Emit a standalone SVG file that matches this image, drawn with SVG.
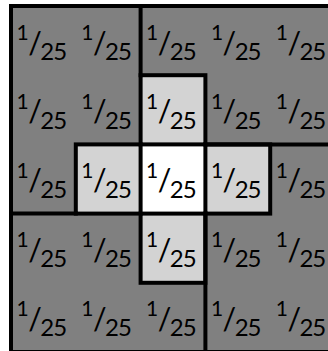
<svg xmlns="http://www.w3.org/2000/svg" width="328" height="351" viewBox="0 0 328 351">
<style>
.bg{fill:#808080}
.lt{fill:#d3d3d3}
.wh{fill:#ffffff}
.ln{stroke:#000;stroke-width:4;fill:none;stroke-linecap:square}
text{font-family:Lato,"Open Sans",sans-serif;fill:#000}
.n{font-size:21px}
.s{font-size:30px}
.d{font-size:24px;letter-spacing:-1px}
</style>
<rect class="bg" x="11" y="6" width="324" height="346"/>
<g id="cells">
<g id="c00"><text x="16.5" y="40"><tspan class="n">1</tspan><tspan class="s" dy="13.5" dx="-0.5">/</tspan><tspan class="d" dy="6.5" dx="-1.5">25</tspan></text></g>
<g id="c01"><text x="81.3" y="40"><tspan class="n">1</tspan><tspan class="s" dy="13.5" dx="-0.5">/</tspan><tspan class="d" dy="6.5" dx="-1.5">25</tspan></text></g>
<g id="c02"><text x="146.1" y="40"><tspan class="n">1</tspan><tspan class="s" dy="13.5" dx="-0.5">/</tspan><tspan class="d" dy="6.5" dx="-1.5">25</tspan></text></g>
<g id="c03"><text x="210.9" y="40"><tspan class="n">1</tspan><tspan class="s" dy="13.5" dx="-0.5">/</tspan><tspan class="d" dy="6.5" dx="-1.5">25</tspan></text></g>
<g id="c04"><text x="275.7" y="40"><tspan class="n">1</tspan><tspan class="s" dy="13.5" dx="-0.5">/</tspan><tspan class="d" dy="6.5" dx="-1.5">25</tspan></text></g>

<g id="c10"><text x="16.5" y="108.8"><tspan class="n">1</tspan><tspan class="s" dy="13.5" dx="-0.5">/</tspan><tspan class="d" dy="6.5" dx="-1.5">25</tspan></text></g>
<g id="c11"><text x="81.3" y="108.8"><tspan class="n">1</tspan><tspan class="s" dy="13.5" dx="-0.5">/</tspan><tspan class="d" dy="6.5" dx="-1.5">25</tspan></text></g>
<g id="c12"><rect class="lt" x="140.6" y="75.2" width="64.8" height="69.2"/><text x="146.1" y="108.8"><tspan class="n">1</tspan><tspan class="s" dy="13.5" dx="-0.5">/</tspan><tspan class="d" dy="6.5" dx="-1.5">25</tspan></text></g>
<g id="c13"><text x="210.9" y="108.8"><tspan class="n">1</tspan><tspan class="s" dy="13.5" dx="-0.5">/</tspan><tspan class="d" dy="6.5" dx="-1.5">25</tspan></text></g>
<g id="c14"><text x="275.7" y="108.8"><tspan class="n">1</tspan><tspan class="s" dy="13.5" dx="-0.5">/</tspan><tspan class="d" dy="6.5" dx="-1.5">25</tspan></text></g>

<g id="c20"><text x="16.5" y="177.8"><tspan class="n">1</tspan><tspan class="s" dy="13.5" dx="-0.5">/</tspan><tspan class="d" dy="6.5" dx="-1.5">25</tspan></text></g>
<g id="c21"><rect class="lt" x="75.8" y="144.4" width="64.8" height="69.2"/><text x="81.3" y="177.8"><tspan class="n">1</tspan><tspan class="s" dy="13.5" dx="-0.5">/</tspan><tspan class="d" dy="6.5" dx="-1.5">25</tspan></text></g>
<g id="c22"><rect class="wh" x="140.6" y="144.4" width="64.8" height="69.2"/><text x="146.1" y="177.8"><tspan class="n">1</tspan><tspan class="s" dy="13.5" dx="-0.5">/</tspan><tspan class="d" dy="6.5" dx="-1.5">25</tspan></text></g>
<g id="c23"><rect class="lt" x="205.4" y="144.4" width="64.8" height="69.2"/><text x="210.9" y="177.8"><tspan class="n">1</tspan><tspan class="s" dy="13.5" dx="-0.5">/</tspan><tspan class="d" dy="6.5" dx="-1.5">25</tspan></text></g>
<g id="c24"><text x="275.7" y="177.8"><tspan class="n">1</tspan><tspan class="s" dy="13.5" dx="-0.5">/</tspan><tspan class="d" dy="6.5" dx="-1.5">25</tspan></text></g>

<g id="c30"><text x="16.5" y="247"><tspan class="n">1</tspan><tspan class="s" dy="13.5" dx="-0.5">/</tspan><tspan class="d" dy="6.5" dx="-1.5">25</tspan></text></g>
<g id="c31"><text x="81.3" y="247"><tspan class="n">1</tspan><tspan class="s" dy="13.5" dx="-0.5">/</tspan><tspan class="d" dy="6.5" dx="-1.5">25</tspan></text></g>
<g id="c32"><rect class="lt" x="140.6" y="213.6" width="64.8" height="69.2"/><text x="146.1" y="247"><tspan class="n">1</tspan><tspan class="s" dy="13.5" dx="-0.5">/</tspan><tspan class="d" dy="6.5" dx="-1.5">25</tspan></text></g>
<g id="c33"><text x="210.9" y="247"><tspan class="n">1</tspan><tspan class="s" dy="13.5" dx="-0.5">/</tspan><tspan class="d" dy="6.5" dx="-1.5">25</tspan></text></g>
<g id="c34"><text x="275.7" y="247"><tspan class="n">1</tspan><tspan class="s" dy="13.5" dx="-0.5">/</tspan><tspan class="d" dy="6.5" dx="-1.5">25</tspan></text></g>

<g id="c40"><text x="16.5" y="316"><tspan class="n">1</tspan><tspan class="s" dy="13.5" dx="-0.5">/</tspan><tspan class="d" dy="6.5" dx="-1.5">25</tspan></text></g>
<g id="c41"><text x="81.3" y="316"><tspan class="n">1</tspan><tspan class="s" dy="13.5" dx="-0.5">/</tspan><tspan class="d" dy="6.5" dx="-1.5">25</tspan></text></g>
<g id="c42"><text x="146.1" y="316"><tspan class="n">1</tspan><tspan class="s" dy="13.5" dx="-0.5">/</tspan><tspan class="d" dy="6.5" dx="-1.5">25</tspan></text></g>
<g id="c43"><text x="210.9" y="316"><tspan class="n">1</tspan><tspan class="s" dy="13.5" dx="-0.5">/</tspan><tspan class="d" dy="6.5" dx="-1.5">25</tspan></text></g>
<g id="c44"><text x="275.7" y="316"><tspan class="n">1</tspan><tspan class="s" dy="13.5" dx="-0.5">/</tspan><tspan class="d" dy="6.5" dx="-1.5">25</tspan></text></g>
</g>
<g id="lines" class="ln">
<rect x="11" y="6" width="324" height="346"/>
<rect x="140.6" y="75.2" width="64.8" height="69.2"/>
<rect x="75.8" y="144.4" width="64.8" height="69.2"/>
<rect x="205.4" y="144.4" width="64.8" height="69.2"/>
<rect x="140.6" y="213.6" width="64.8" height="69.2"/>
<path d="M140.6 6V75.2M205.4 144.4H335M205.4 213.6V352M11 213.6H75.8"/>
</g>
</svg>
